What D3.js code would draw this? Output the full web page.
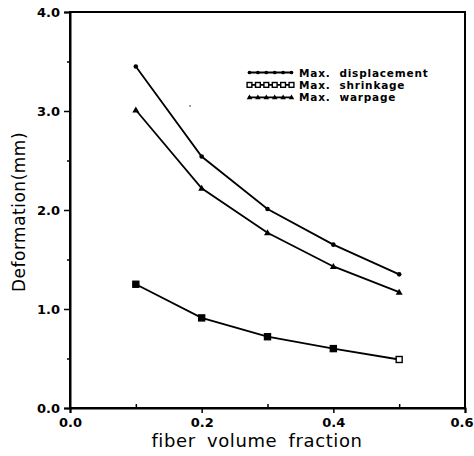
<!DOCTYPE html>
<html>
<head>
<meta charset="utf-8">
<script src="https://cdn.jsdelivr.net/npm/d3@7"></script>
<style>
  body { margin: 0; background: #fff; }
  text { font-family: "DejaVu Sans", sans-serif; fill: #000; }
</style>
</head>
<body>
<svg id="chart" width="474" height="456"></svg>
<script>
// data
const fractions = [0.1, 0.2, 0.3, 0.4, 0.5];
const displacement = [3.45, 2.54, 2.01, 1.65, 1.35];
const shrinkage = [1.25, 0.91, 0.72, 0.60, 0.49];
const warpage = [3.01, 2.22, 1.77, 1.43, 1.17];
const xTicks = [0.0, 0.2, 0.4, 0.6];
const yTicks = [0.0, 1.0, 2.0, 3.0, 4.0];
const seriesNames = ["Max.  displacement", "Max.  shrinkage", "Max.  warpage"];

const svg = d3.select("#chart");
const mLeft = 70, mRight = 465, mTop = 12, mBottom = 408;

const x = d3.scaleLinear().domain([0, 0.6]).range([mLeft, mRight]);
const y = d3.scaleLinear().domain([0, 4]).range([mBottom, mTop]);

// frame
svg.append("rect")
  .attr("x", mLeft).attr("y", mTop)
  .attr("width", mRight - mLeft).attr("height", mBottom - mTop)
  .attr("fill", "none").attr("stroke", "#000").attr("stroke-width", 2);

// axes
const xAxis = svg.append("g").attr("transform", `translate(0,${mBottom})`)
  .call(d3.axisBottom(x).tickValues(xTicks).tickFormat(d3.format(".1f")).tickSize(5).tickPadding(2));
svg.append("g").attr("transform", `translate(0,${mBottom})`)
  .call(d3.axisTop(x).tickValues([0.1, 0.3, 0.5]).tickFormat("").tickSize(4))
  .call(g => g.select(".domain").remove());
const yAxis = svg.append("g").attr("transform", `translate(${mLeft},0)`)
  .call(d3.axisLeft(y).tickValues(yTicks).tickFormat(d3.format(".1f")).tickSize(6).tickPadding(4));
svg.append("g").attr("transform", `translate(${mLeft},0)`)
  .call(d3.axisLeft(y).tickValues([0.5, 1.5, 2.5, 3.5]).tickFormat("").tickSize(3))
  .call(g => g.select(".domain").remove());

svg.selectAll(".domain").attr("stroke-width", 2);
svg.selectAll(".tick line").attr("stroke-width", 1.5);
xAxis.selectAll("text").attr("font-size", 13).attr("font-weight", "bold").attr("dy", "0.9em");
xAxis.selectAll(".tick:last-of-type text").attr("text-anchor", "end").attr("dx", 8);
yAxis.selectAll("text").attr("font-size", 13).attr("font-weight", "bold");

// axis titles
svg.append("text")
  .attr("x", 257).attr("y", 447)
  .attr("text-anchor", "middle").attr("font-size", 18)
  .attr("letter-spacing", 0.6).attr("word-spacing", 5)
  .text("fiber volume fraction");
svg.append("text")
  .attr("transform", `translate(25,212) rotate(-90)`)
  .attr("text-anchor", "middle").attr("font-size", 17)
  .attr("letter-spacing", 0.5)
  .text("Deformation(mm)");

const line = d3.line().x(d => x(d[0])).y(d => y(d[1]));

function drawMarker(g, type, cx, cy, hollow, size = 1) {
  if (type === "circle") {
    g.append("circle").attr("cx", cx).attr("cy", cy).attr("r", 2.3 * size).attr("fill", "#000");
  } else if (type === "square") {
    const h = 3 * size;
    g.append("rect").attr("x", cx - h).attr("y", cy - h).attr("width", 2 * h).attr("height", 2 * h)
      .attr("fill", hollow ? "#fff" : "#000").attr("stroke", "#000").attr("stroke-width", 1.4);
  } else {
    g.append("path")
      .attr("d", `M${cx},${cy - 3.5 * size}L${cx + 3.5 * size},${cy + 2.5 * size}L${cx - 3.5 * size},${cy + 2.5 * size}Z`)
      .attr("fill", "#000");
  }
}

const series = [
  {values: displacement, marker: "circle"},
  {values: shrinkage, marker: "square"},
  {values: warpage, marker: "triangle"}
];

series.forEach(s => {
  const pts = fractions.map((f, i) => [f, s.values[i]]);
  svg.append("path").attr("d", line(pts))
    .attr("fill", "none").attr("stroke", "#000").attr("stroke-width", 1.8);
  const g = svg.append("g");
  pts.forEach((p, i) => drawMarker(g, s.marker, x(p[0]), y(p[1]), s.marker === "square" && i === pts.length - 1));
});

// legend
const legend = svg.append("g");
series.forEach((s, i) => {
  const ly = 72.5 + i * 12.4;
  legend.append("line").attr("x1", 248).attr("x2", 292).attr("y1", ly).attr("y2", ly)
    .attr("stroke", "#000").attr("stroke-width", 1.8);
  const g = legend.append("g");
  d3.range(6).forEach(k => drawMarker(g, s.marker, 249.5 + k * 8.4, ly, s.marker === "square", 0.8));
  legend.append("text").attr("x", 299).attr("y", ly + 4)
    .attr("font-size", 10.5).attr("font-weight", "bold").attr("letter-spacing", 0.8)
    .style("white-space", "pre")
    .text(seriesNames[i]);
});

// stray speck in the scan
svg.append("circle").attr("cx", 190).attr("cy", 106).attr("r", 0.7).attr("fill", "#000");
</script>
</body>
</html>
